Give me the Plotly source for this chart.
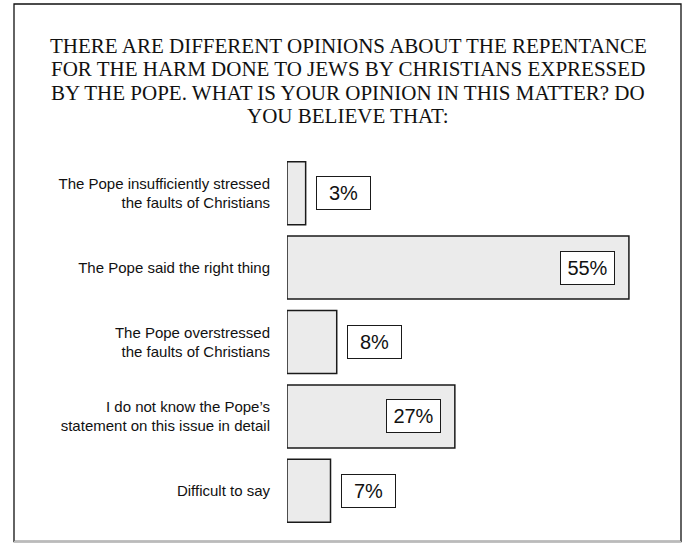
import plotly.graph_objects as go

categories = [
    "The Pope insufficiently stressed<br>the faults of Christians",
    "The Pope said the right thing",
    "The Pope overstressed<br>the faults of Christians",
    "I do not know the Pope’s<br>statement on this issue in detail",
    "Difficult to say",
]
values = [3, 55, 8, 27, 7]
value_labels = ["3%", "55%", "8%", "27%", "7%"]

title_lines = [
    "THERE ARE DIFFERENT OPINIONS ABOUT THE REPENTANCE",
    "FOR THE HARM DONE TO JEWS BY CHRISTIANS EXPRESSED",
    "BY THE POPE. WHAT IS YOUR OPINION IN THIS MATTER? DO",
    "YOU BELIEVE THAT:",
]

W, H = 688, 543
ML, MR, MT, MB = 287, 28, 156, 15

fig = go.Figure()
fig.add_trace(go.Bar(
    x=values, y=categories, orientation="h",
    marker=dict(color="#ebebeb", line=dict(color="#1a1a1a", width=1.5)),
    hoverinfo="skip",
))

pw = W - ML - MR
ph = H - MT - MB
def px_x(p):
    return (p - ML) / pw
def px_y(p):
    return 1 - (p - MT) / ph

annotations = []
for cat, v, lab in zip(categories, values, value_labels):
    inside = v > 20
    annotations.append(dict(
        x=v, y=cat, xref="x", yref="y", text=lab, showarrow=False,
        xanchor="right" if inside else "left",
        xshift=-14 if inside else 10,
        font=dict(family="Liberation Sans, Arial, sans-serif", size=20, color="#111"),
        bgcolor="white", bordercolor="#1a1a1a", borderwidth=1, borderpad=3,
        width=47, height=26, align="center", valign="middle",
    ))

# title, one line per annotation (tight line spacing as in the original)
for i, line in enumerate(title_lines):
    annotations.append(dict(
        x=px_x(348), y=px_y(46 + 23.3 * i), xref="paper", yref="paper",
        text=line, showarrow=False, xanchor="center", yanchor="middle",
        font=dict(family="Liberation Serif, Times New Roman, serif", size=21, color="#111"),
    ))

shapes = [
    dict(type="rect", xref="paper", yref="paper", x0=px_x(14), x1=px_x(681), y0=px_y(4), y1=px_y(541.5),
         line=dict(color="#111", width=1.3), fillcolor="rgba(0,0,0,0)", layer="above"),
    dict(type="line", xref="paper", yref="paper", x0=px_x(14), x1=px_x(681), y0=px_y(541.5), y1=px_y(541.5),
         line=dict(color="#bbb", width=1.5), layer="above"),
]

fig.update_layout(
    width=W, height=H,
    margin=dict(l=ML, r=MR, t=MT, b=MB),
    paper_bgcolor="white", plot_bgcolor="white",
    showlegend=False,
    bargap=0.153,
    xaxis=dict(range=[0, 60], visible=False, fixedrange=True),
    yaxis=dict(autorange="reversed", showgrid=False, zeroline=False, showline=False,
               ticks="", ticklabelstandoff=16, automargin=False,
               tickfont=dict(family="Liberation Sans, Arial, sans-serif", size=15, color="#111")),
    annotations=annotations,
    shapes=shapes,
)

fig.write_html(
    "out.html",
    config={"displayModeBar": False},
    post_script="document.body.style.margin='0';document.body.style.overflow='hidden';",
)
